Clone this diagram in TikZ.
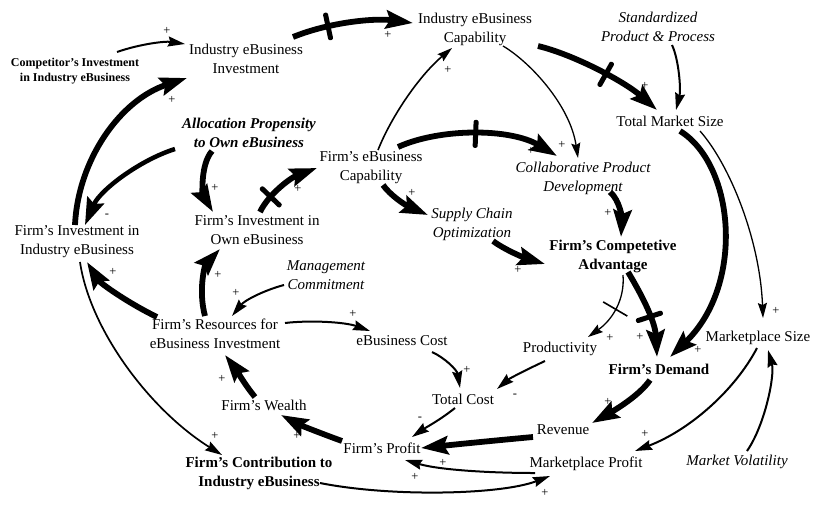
\documentclass[tikz,border=0pt]{standalone}
\usepackage{fontspec}
\setmainfont{Liberation Serif}
\usetikzlibrary{arrows.meta,calc}
\begin{document}
\begin{tikzpicture}[x=1pt,y=-1pt,
  every node/.style={font=\fontsize{15}{19}\selectfont, align=center, inner sep=1pt},
  ital/.style={font=\fontsize{15}{19}\selectfont\itshape},
  bld/.style={font=\fontsize{15}{19}\selectfont\bfseries},
  bit/.style={font=\fontsize{15}{19}\selectfont\bfseries\itshape},
  cmp/.style={font=\fontsize{12}{15}\selectfont\bfseries},
  sgn/.style={font=\fontsize{12.5}{12.5}\selectfont, inner sep=0pt},
  tk/.style={line width=5.8pt, -{Stealth[length=27pt,width=18pt,inset=4pt]}},
  md/.style={line width=2pt, -{Stealth[length=17pt,width=10pt,inset=2pt]}},
  fn/.style={line width=1.3pt, -{Stealth[length=15pt,width=9pt,inset=2pt]}},
  dbar/.style={sloped, fill=black, draw=none, minimum width=5pt, minimum height=28pt, inner sep=0pt, rounded corners=2pt},
  dthin/.style={sloped, fill=black, draw=none, minimum width=1.6pt, minimum height=28pt, inner sep=0pt},
]
\useasboundingbox (0,0) rectangle (813,504);
% nodes
\node[cmp] (comp) at (75,71) {Competitor's Investment\\in Industry eBusiness};
\node (iei) at (246,59) {Industry eBusiness\\Investment};
\node (iec) at (475,29) {Industry eBusiness\\Capability};
\node[ital] (std) at (658,27) {Standardized\\Product \& Process};
\node (tms) at (670,121) {Total Market Size};
\node[bit] (alloc) at (249,133) {Allocation Propensity\\to Own eBusiness};
\node (fec) at (371,168) {Firm's eBusiness\\Capability};
\node[ital] (collab) at (583,178) {Collaborative Product\\Development};
\node (fioe) at (257,230) {Firm's Investment in\\Own eBusiness};
\node[ital] (sco) at (472,224) {Supply Chain\\Optimization};
\node[bld] (fca) at (613,256) {Firm's Competetive\\Advantage};
\node (fiie) at (77,242) {Firm's Investment in\\Industry eBusiness};
\node[ital] (mgmt) at (326,275) {Management\\Commitment};
\node (fres) at (215,334) {Firm's Resources for\\eBusiness Investment};
\node (ecost) at (402,341) {eBusiness Cost};
\node (prod) at (560,349) {Productivity};
\node[bld] (fd) at (659,369) {Firm's Demand};
\node (ms) at (758,338) {Marketplace Size};
\node (tc) at (463,399) {Total Cost};
\node (fw) at (264,405) {Firm's Wealth};
\node (rev) at (563,430) {Revenue};
\node (fp) at (382,448) {Firm's Profit};
\node[bld] (fcon) at (259,473) {Firm's Contribution to\\Industry eBusiness};
\node (mp) at (586,464) {Marketplace Profit};
\node[ital] (mv) at (737,462) {Market Volatility};
% connectors
\draw[md] ($(comp)+(42,-19)$) .. controls (140,44) and (165,41) .. ($(iei)+(-61,-15)$);
\draw[tk] ($(iei)+(47,-22)$) .. controls (330,22) and (375,18) .. node[dbar,pos=0.3] (d1) {} ($(iec)+(-62,-6)$);
\draw[tk] ($(iec)+(63,17)$) .. controls (575,55) and (625,82) .. node[dbar,pos=0.55] (d2) {} ($(tms)+(-13,-11)$);
\draw[md] ($(std)+(14,18)$) .. controls (679,60) and (681,90) .. ($(tms)+(6,-11)$);
\draw[fn] ($(iec)+(28,17)$) .. controls (530,62) and (570,105) .. ($(collab)+(-5,-20)$);
\draw[fn,line width=1.6pt] ($(fec)+(7,-18)$) .. controls (392,115) and (420,75) .. ($(iec)+(-23,19)$);
\draw[tk] ($(fec)+(27,-21)$) .. controls (440,128) and (510,128) .. node[dbar,pos=0.5] (d3) {} ($(collab)+(-26,-22)$);
\draw[tk] ($(fioe)+(3,-18)$) .. controls (268,195) and (290,178) .. node[dbar,pos=0.3] (d4) {} ($(fec)+(-54,0)$);
\draw[tk] ($(alloc)+(-37,18)$) .. controls (200,165) and (203,195) .. ($(fioe)+(-44,-18)$);
\draw[tk,line width=4.5pt] ($(alloc)+(-74,16)$) .. controls (140,160) and (100,190) .. ($(fiie)+(8,-17)$);
\draw[tk] ($(fiie)+(-2,-17)$) .. controls (78,160) and (120,100) .. ($(iei)+(-59,19)$);
\draw[tk] ($(fres)+(-58,-17)$) .. controls (128,303) and (100,283) .. ($(fiie)+(10,20)$);
\draw[tk] ($(fres)+(-10,-18)$) .. controls (198,290) and (205,265) .. ($(fioe)+(-37,19)$);
\draw[md] ($(mgmt)+(-42,10)$) .. controls (265,290) and (245,300) .. ($(fres)+(17,-18)$);
\draw[md] ($(fres)+(70,-11)$) .. controls (310,320) and (345,322) .. ($(ecost)+(-32,-10)$);
\draw[tk] ($(fec)+(12,17)$) .. controls (390,195) and (405,205) .. ($(sco)+(-44,-9)$);
\draw[tk] ($(sco)+(21,17)$) .. controls (505,250) and (525,258) .. ($(fca)+(-68,8)$);
\draw[tk] ($(collab)+(27,14)$) .. controls (620,200) and (622,220) .. ($(fca)+(8,-19)$);
\draw[tk] ($(tms)+(10,10)$) .. controls (735,165) and (745,285) .. ($(fd)+(11,-12)$);
\draw[fn] ($(tms)+(30,10)$) .. controls (730,165) and (760,240) .. ($(ms)+(5,-20)$);
\draw[tk] ($(fca)+(15,16)$) .. controls (640,292) and (655,320) .. node[dbar,pos=0.6] (d5) {} ($(fd)+(-2,-12)$);
\draw[fn] ($(fca)+(10,19)$) .. controls (625,300) and (612,320) .. node[dthin,pos=0.5] (d6) {} ($(prod)+(28,-12)$);
\draw[md] ($(prod)+(-15,12)$) .. controls (530,368) and (510,378) .. ($(tc)+(34,-10)$);
\draw[md] ($(ecost)+(30,11)$) .. controls (445,358) and (457,370) .. ($(tc)+(-3,-11)$);
\draw[md] ($(tc)+(-8,9)$) .. controls (440,420) and (425,428) .. ($(fp)+(30,-11)$);
\draw[tk] ($(fp)+(-40,-7)$) .. controls (320,433) and (300,425) .. ($(fw)+(17,10)$);
\draw[tk] ($(fw)+(-9,-8)$) .. controls (245,385) and (235,368) .. ($(fres)+(10,21)$);
\draw[tk] ($(rev)+(-30,7)$) .. controls (500,440) and (460,444) .. ($(fp)+(39,0)$);
\draw[md] ($(mp)+(-51,9)$) .. controls (490,473) and (440,470) .. ($(fp)+(23,12)$);
\draw[md] ($(fcon)+(61,10)$) .. controls (390,497) and (500,495) .. ($(mp)+(-36,12)$);
\draw[md,line width=1.7pt] ($(fiie)+(3,20)$) .. controls (90,330) and (150,410) .. ($(fcon)+(-37,-18)$);
\draw[tk] ($(fd)+(-9,11)$) .. controls (640,395) and (615,410) .. ($(rev)+(29,-7)$);
\draw[md] ($(ms)+(-1,10)$) .. controls (735,390) and (690,430) .. ($(mp)+(49,-13)$);
\draw[md] ($(mv)+(10,-11)$) .. controls (765,425) and (775,375) .. ($(ms)+(10,12)$);
% signs
\node[sgn] (s1) at (167,31) {+};
\node[sgn] (s2) at (388,35) {+};
\node[sgn] (s3) at (645,86) {+};
\node[sgn] (s5) at (562,145) {+};
\node[sgn] (s6) at (448,70) {+};
\node[sgn] (s34) at (531,151) {+};
\node[sgn] (s7) at (298,189) {+};
\node[sgn] (s8) at (215,188) {+};
\node[sgn] (s9) at (107,216) {-};
\node[sgn] (s10) at (172,100) {+};
\node[sgn] (s11) at (113,272) {+};
\node[sgn] (s12) at (218,275) {+};
\node[sgn] (s13) at (236,293) {+};
\node[sgn] (s14) at (353,314) {+};
\node[sgn] (s15) at (412,193) {+};
\node[sgn] (s16) at (518,270) {+};
\node[sgn] (s17) at (608,213) {+};
\node[sgn] (s18) at (698,350) {+};
\node[sgn] (s19) at (776,311) {+};
\node[sgn] (s20) at (640,337) {+};
\node[sgn] (s21) at (610,338) {+};
\node[sgn] (s22) at (515,396) {-};
\node[sgn] (s23) at (467,370) {+};
\node[sgn] (s24) at (420,419) {-};
\node[sgn] (s25) at (297,436) {+};
\node[sgn] (s26) at (222,379) {+};
\node[sgn] (s27) at (443,463) {+};
\node[sgn] (s28) at (415,477) {+};
\node[sgn] (s29) at (545,493) {+};
\node[sgn] (s30) at (215,436) {+};
\node[sgn] (s31) at (608,402) {+};
\node[sgn] (s32) at (645,434) {+};
\end{tikzpicture}
\end{document}
